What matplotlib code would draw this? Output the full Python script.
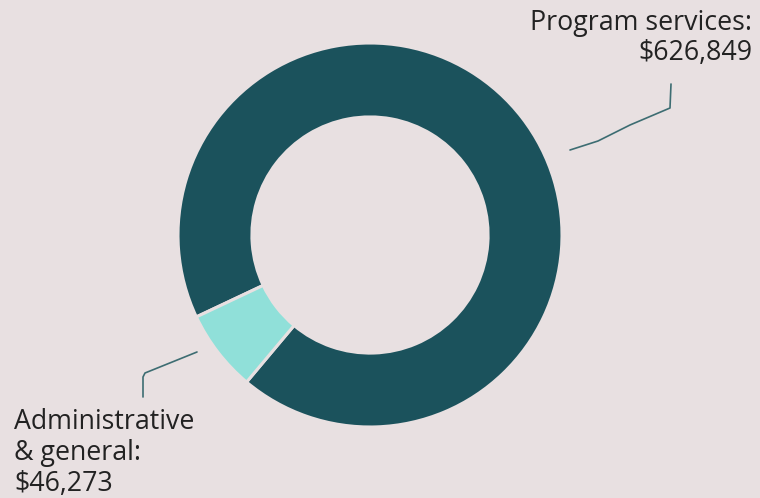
import matplotlib
matplotlib.use("Agg")
import matplotlib.pyplot as plt

categories = ["Program services", "Administrative & general"]
values = [626849, 46273]
label_texts = ["Program services:\n$626,849", "Administrative\n& general:\n$46,273"]

BG = "#e8e0e1"
COLORS = ["#1b525c", "#90e0d9"]
LINE = "#3d6d72"
TXT = "#222222"

W, H = 760, 498
fig = plt.figure(figsize=(W / 100, H / 100), dpi=100, facecolor=BG)

cx, cy, R = 370, 235, 192
ax = fig.add_axes([(cx - R) / W, (H - cy - R) / H, 2 * R / W, 2 * R / H])
ax.set_facecolor(BG)
ax.pie(values, colors=COLORS, startangle=230, counterclock=True, radius=1.0,
       wedgeprops=dict(width=0.385, edgecolor=BG, linewidth=2.2))
ax.set_xlim(-1, 1)
ax.set_ylim(-1, 1)
ax.set_aspect("equal")
ax.axis("off")

ov = fig.add_axes([0, 0, 1, 1], facecolor="none")
ov.set_xlim(0, W)
ov.set_ylim(H, 0)
ov.axis("off")

font = "Open Sans"
fs = 19.3
prog_lines = label_texts[0].split("\n")
for i, s in enumerate(prog_lines):
    ov.text(752, 30 + i * 30, s, ha="right", va="baseline", fontsize=fs,
            color=TXT, family=font)
admin_lines = label_texts[1].split("\n")
for i, s in enumerate(admin_lines):
    ov.text(14, 429 + i * 31, s, ha="left", va="baseline", fontsize=fs,
            color=TXT, family=font)

ov.plot([570, 598, 630, 670, 671], [150, 141, 125, 108, 84], color=LINE, lw=1.2,
        solid_capstyle="round")
ov.plot([197, 145, 143, 143], [352, 373, 377, 397], color=LINE, lw=1.2,
        solid_capstyle="round")

fig.savefig("out.png", dpi=100, facecolor=BG)
